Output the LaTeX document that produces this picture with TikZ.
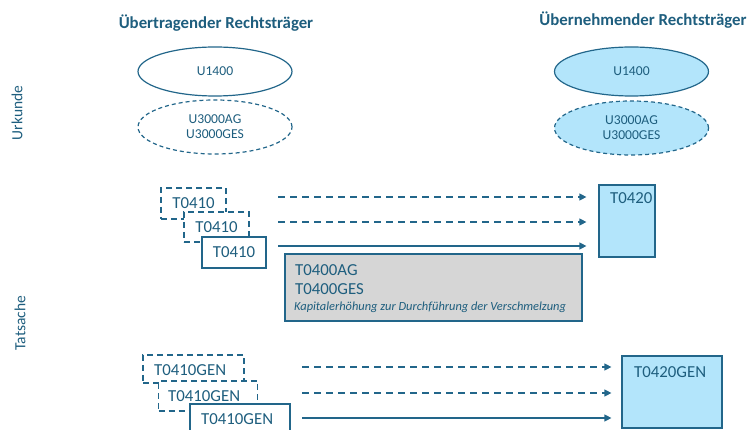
\documentclass[tikz,border=0pt]{standalone}
\usepackage{fontspec}
\setmainfont{Carlito}
\usetikzlibrary{shapes.geometric,arrows.meta}
\definecolor{tc}{HTML}{1E5E7E}
\definecolor{lc}{HTML}{22668A}
\definecolor{lb}{HTML}{B3E5FB}
\definecolor{gr}{HTML}{D6D6D6}
\tikzset{
  title/.style={font=\fontsize{16.8}{19}\selectfont\bfseries, text=tc},
  side/.style={font=\fontsize{15.5}{18}\selectfont, text=tc, rotate=90},
  ell/.style={ellipse, draw=lc, line width=1.2pt, minimum width=154pt, minimum height=49pt, inner sep=0pt, align=center, font=\fontsize{13.6}{16}\selectfont, text=tc},
  dell/.style={ell, dashed, dash pattern=on 4pt off 3pt, minimum height=54pt},
  tbox/.style={draw=lc, line width=1.2pt, inner sep=0pt, font=\fontsize{16.8}{19}\selectfont, text=tc},
  dbox/.style={tbox, dash pattern=on 6pt off 4pt},
  lbl/.style={inner sep=0pt, font=\fontsize{16.8}{19}\selectfont, text=tc},
  sarr/.style={draw=lc, line width=1.2pt, -{Triangle[length=7pt,width=7pt]}},
  darr/.style={sarr, dash pattern=on 7pt off 5pt},
}
\begin{document}
\begin{tikzpicture}[x=1pt,y=-1pt]
\useasboundingbox (0,0) rectangle (748,430);
% titles
\node[title] (t1) at (216,23) {Übertragender Rechtsträger};
\node[title] (t2) at (643,20) {Übernehmender Rechtsträger};
% side labels
\node[side] (urk) at (17,113) {Urkunde};
\node[side] (tat) at (20,323) {Tatsache};
% ellipses
\node[ell] (u1l) at (215,71.5) {U1400};
\node[dell] (u3l) at (215,127) {U3000AG\\[-1pt]U3000GES};
\node[ell, fill=lb] (u1r) at (631.5,71.5) {U1400};
\node[dell, fill=lb] (u3r) at (631.5,128) {U3000AG\\[-1pt]U3000GES};
% T0410 boxes
\node[dbox, minimum width=65pt, minimum height=31pt] (a1) at (193.5,203.5) {T0410};
\node[dbox, fill=white, minimum width=65pt, minimum height=30pt] (a2) at (216.5,227) {T0410};
\node[tbox, fill=white, minimum width=64pt, minimum height=31pt] (a3) at (234,252.5) {T0410};
% T0420
\node[tbox, fill=lb, minimum width=56pt, minimum height=72pt] (b) at (627,221) {};
\node[lbl, anchor=north west] (bt) at (610,192) {T0420};
% arrows upper
\coordinate (s1) at (278,197);
\coordinate (s2) at (278,222);
\coordinate (s3) at (278,246);
\draw[darr] (s1) -- ([xshift=-12pt]s1 -| b.west);
\draw[darr] (s2) -- ([xshift=-12pt]s2 -| b.west);
\draw[sarr] (s3) -- ([xshift=-12pt]s3 -| b.west);
% gray box
\node[draw=lc, line width=1.2pt, fill=gr, minimum width=297pt, minimum height=67pt, inner sep=0pt] (g) at (433.5,287.5) {};
\node[lbl, anchor=west] (g1) at (295,270) {T0400AG};
\node[lbl, anchor=west] (g2) at (295,289) {T0400GES};
\node[anchor=west, inner sep=0pt, font=\fontsize{12.4}{14}\selectfont\itshape, text=tc] (g3) at (294,307.5) {Kapitalerhöhung zur Durchführung der Verschmelzung};
% T0410GEN boxes
\node[dbox, minimum width=101pt, minimum height=28pt] (c1) at (193.5,369) {};
\node[lbl, anchor=west] (c1t) at (154,370) {T0410GEN};
\node[dbox, fill=white, minimum width=99pt, minimum height=30pt] (c2) at (208,396) {};
\node[lbl, anchor=west] (c2t) at (168,396) {T0410GEN};
\node[tbox, fill=white, minimum width=100pt, minimum height=34pt] (c3) at (240,421) {};
\node[lbl, anchor=west] (c3t) at (201,419) {T0410GEN};
% T0420GEN
\node[tbox, fill=lb, minimum width=100pt, minimum height=72pt] (d) at (672,392) {};
\node[lbl, anchor=west] (dt) at (634,372) {T0420GEN};
% arrows lower
\coordinate (r1) at (302,367);
\coordinate (r2) at (302,393);
\coordinate (r3) at (302,418);
\draw[darr] (r1) -- ([xshift=-10pt]r1 -| d.west);
\draw[darr] (r2) -- ([xshift=-10pt]r2 -| d.west);
\draw[sarr] (r3) -- ([xshift=-10pt]r3 -| d.west);
\end{tikzpicture}
\end{document}
